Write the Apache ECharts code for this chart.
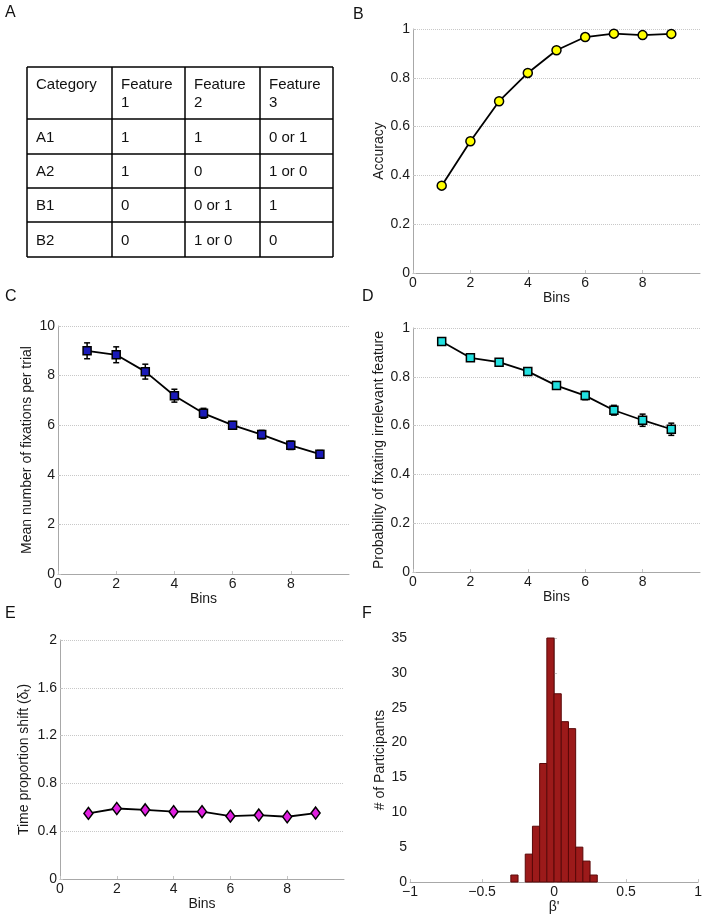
<!DOCTYPE html>
<html>
<head>
<meta charset="utf-8">
<script src="https://cdn.jsdelivr.net/npm/echarts@6/dist/echarts.min.js"></script>
<style>
  html, body { margin: 0; padding: 0; background: #fff; }
  #main { width: 705px; height: 918px; }
</style>
</head>
<body>
<div id="main"></div>
<script>
// values
const bins = [1, 2, 3, 4, 5, 6, 7, 8, 9];
const accuracy = [0.358, 0.540, 0.704, 0.820, 0.913, 0.967, 0.981, 0.975, 0.980];
const fixations = [9.00, 8.84, 8.16, 7.19, 6.48, 6.00, 5.62, 5.19, 4.83];
const fixationsErr = [0.32, 0.32, 0.30, 0.26, 0.20, 0.15, 0.17, 0.17, 0.15];
const irrelevant = [0.945, 0.878, 0.860, 0.822, 0.764, 0.723, 0.663, 0.622, 0.585];
const irrelevantErr = [0.006, 0.010, 0.010, 0.012, 0.015, 0.017, 0.020, 0.025, 0.025];
const timeShift = [0.549, 0.590, 0.579, 0.563, 0.563, 0.526, 0.535, 0.521, 0.552];
const histEdges = [-0.3, -0.25, -0.2, -0.15, -0.1, -0.05, 0, 0.05, 0.1, 0.15, 0.2, 0.25, 0.3];
const histCounts = [1, 0, 4, 8, 17, 35, 27, 23, 22, 5, 3, 1];
const tableHeader = ['Category', 'Feature\n1', 'Feature\n2', 'Feature\n3'];
const tableRows = [
  ['A1', '1', '1', '0 or 1'],
  ['A2', '1', '0', '1 or 0'],
  ['B1', '0', '0 or 1', '1'],
  ['B2', '0', '1 or 0', '0']
];
const panelLetters = ['A', 'B', 'C', 'D', 'E', 'F'];

const FONT = 'Liberation Sans, Arial, Helvetica, sans-serif';
const axisGray = '#a8a8a8';

function xAxisFor(grid, opts) {
  return Object.assign({
    type: 'value',
    gridIndex: grid,
    min: 0, max: 10, interval: 2,
    name: 'Bins',
    nameLocation: 'middle',
    nameGap: 17,
    nameTextStyle: { fontFamily: FONT, fontSize: 14, color: '#1a1a1a' },
    axisLine: { show: true, onZero: false, lineStyle: { color: axisGray, width: 1 } },
    axisTick: { show: true, inside: true, length: 3, lineStyle: { color: '#c4c4c4' } },
    axisLabel: { fontFamily: FONT, fontSize: 14, color: '#1a1a1a', margin: 3, showMaxLabel: false },
    splitLine: { show: false }
  }, opts || {});
}

function yAxisFor(grid, name, max, interval, gap, opts) {
  return Object.assign({
    type: 'value',
    gridIndex: grid,
    min: 0, max: max, interval: interval,
    name: name,
    nameLocation: 'middle',
    nameGap: gap,
    nameTextStyle: { fontFamily: FONT, fontSize: 14, color: '#1a1a1a' },
    axisLine: { show: true, lineStyle: { color: axisGray, width: 1 } },
    axisTick: { show: true, inside: true, length: 3, lineStyle: { color: '#c4c4c4' } },
    axisLabel: { fontFamily: FONT, fontSize: 14, color: '#1a1a1a', margin: 3 },
    splitLine: { show: true, lineStyle: { color: '#c8c8c8', type: 'dotted', width: 1 } }
  }, opts || {});
}

function lineSeries(grid, values, symbol, size, color) {
  return {
    type: 'line',
    xAxisIndex: grid, yAxisIndex: grid,
    data: bins.map(function (b, i) { return [b, values[i]]; }),
    symbol: symbol,
    symbolSize: size,
    showSymbol: true,
    z: 3,
    lineStyle: { color: '#000', width: 1.8 },
    itemStyle: { color: color, borderColor: '#000', borderWidth: 1.5 },
    silent: true
  };
}

function errorBars(grid, values, errs) {
  return {
    type: 'custom',
    xAxisIndex: grid, yAxisIndex: grid,
    z: 2,
    silent: true,
    data: bins.map(function (b, i) { return [b, values[i] - errs[i], values[i] + errs[i]]; }),
    renderItem: function (params, api) {
      const lo = api.coord([api.value(0), api.value(1)]);
      const hi = api.coord([api.value(0), api.value(2)]);
      const w = 3;
      const st = { stroke: '#000', lineWidth: 1.5 };
      return {
        type: 'group',
        children: [
          { type: 'line', shape: { x1: lo[0], y1: lo[1], x2: hi[0], y2: hi[1] }, style: st },
          { type: 'line', shape: { x1: lo[0] - w, y1: lo[1], x2: lo[0] + w, y2: lo[1] }, style: st },
          { type: 'line', shape: { x1: hi[0] - w, y1: hi[1], x2: hi[0] + w, y2: hi[1] }, style: st }
        ]
      };
    }
  };
}

// table in panel A, drawn with graphic elements
const colX = [27, 112, 185, 260, 333];
const rowY = [67, 119, 154, 188, 222, 257];
const tableGraphics = [];
rowY.forEach(function (y) {
  tableGraphics.push({ type: 'line', shape: { x1: colX[0], y1: y, x2: colX[4], y2: y }, style: { stroke: '#000', lineWidth: 1.5 } });
});
colX.forEach(function (x) {
  tableGraphics.push({ type: 'line', shape: { x1: x, y1: rowY[0], x2: x, y2: rowY[5] }, style: { stroke: '#000', lineWidth: 1.5 } });
});
tableHeader.forEach(function (t, c) {
  tableGraphics.push({
    type: 'text', x: colX[c] + 9, y: rowY[0] + 9,
    style: { text: t, font: '15px ' + FONT, fill: '#111', verticalAlign: 'top', lineHeight: 18 }
  });
});
tableRows.forEach(function (row, r) {
  row.forEach(function (t, c) {
    tableGraphics.push({
      type: 'text', x: colX[c] + 9, y: (rowY[r + 1] + rowY[r + 2]) / 2 + 1,
      style: { text: t, font: '15px ' + FONT, fill: '#111', verticalAlign: 'middle' }
    });
  });
});

const letterPos = [[5, 13], [353, 15], [5, 297], [362, 297], [5, 614], [362, 614]];
const letterGraphics = panelLetters.map(function (l, i) {
  return {
    type: 'text', x: letterPos[i][0], y: letterPos[i][1],
    style: { text: l, font: '16px ' + FONT, fill: '#111', verticalAlign: 'middle' }
  };
});

const chart = echarts.init(document.getElementById('main'));

chart.setOption({
  animation: false,
  backgroundColor: '#fff',
  grid: [
    { left: 413, top: 29, width: 287, height: 244 },
    { left: 58, top: 326, width: 291, height: 248 },
    { left: 413, top: 328, width: 287, height: 244 },
    { left: 60, top: 640, width: 284, height: 239 },
    { left: 410, top: 638, width: 290, height: 244 }
  ],
  xAxis: [
    xAxisFor(0),
    xAxisFor(1),
    xAxisFor(2),
    xAxisFor(3),
    xAxisFor(4, {
      min: -1, max: 1, interval: 0.5,
      name: "\u03b2'",
      nameGap: 18,
      axisLabel: {
        fontFamily: FONT, fontSize: 14, color: '#1a1a1a', margin: 3, showMaxLabel: true,
        formatter: function (v) { return String(v).replace('-', '\u2212'); }
      }
    })
  ],
  yAxis: [
    yAxisFor(0, 'Accuracy', 1, 0.2, 25),
    yAxisFor(1, 'Mean number of fixations per trial', 10, 2, 24),
    yAxisFor(2, 'Probability of fixating irrelevant feature', 1, 0.2, 26),
    yAxisFor(3, 'Time proportion shift (\u03b4\u209c)', 2, 0.4, 29),
    yAxisFor(4, '# of Participants', 35, 5, 19, { splitLine: { show: false } })
  ],
  graphic: tableGraphics.concat(letterGraphics),
  series: [
    lineSeries(0, accuracy, 'circle', 9, '#ffff00'),
    errorBars(1, fixations, fixationsErr),
    lineSeries(1, fixations, 'rect', 8, '#1a1ab8'),
    errorBars(2, irrelevant, irrelevantErr),
    lineSeries(2, irrelevant, 'rect', 8, '#22e0e0'),
    lineSeries(3, timeShift, 'diamond', [9, 12], '#e020e0'),
    {
      type: 'custom',
      xAxisIndex: 4, yAxisIndex: 4,
      silent: true,
      data: histCounts.map(function (c, i) { return [histEdges[i], histEdges[i + 1], c]; })
        .filter(function (d) { return d[2] > 0; }),
      encode: { x: [0, 1], y: 2 },
      renderItem: function (params, api) {
        const p0 = api.coord([api.value(0), 0]);
        const p1 = api.coord([api.value(1), api.value(2)]);
        return {
          type: 'rect',
          shape: { x: p0[0], y: p1[1], width: p1[0] - p0[0], height: p0[1] - p1[1] },
          style: { fill: '#9c1a1a', stroke: '#5a0808', lineWidth: 1 }
        };
      }
    }
  ]
});
</script>
</body>
</html>
